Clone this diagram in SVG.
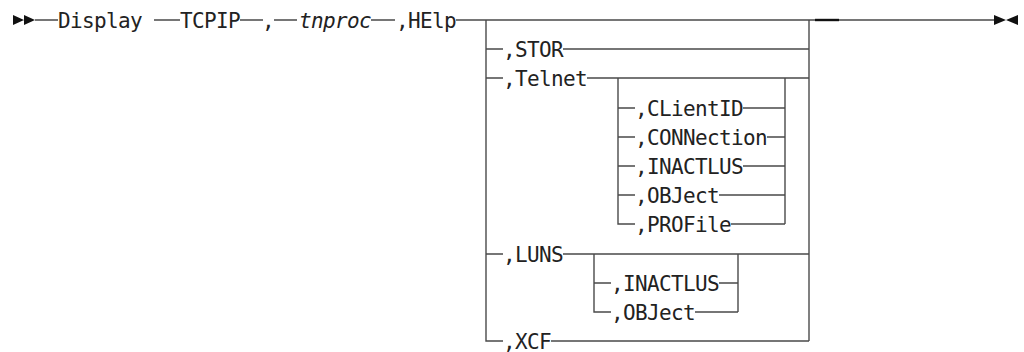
<svg xmlns="http://www.w3.org/2000/svg" width="1024" height="352" viewBox="0 0 1024 352">
<style>
.t{font-family:"DejaVu Sans Mono","Liberation Mono",monospace;font-size:21px;letter-spacing:-0.64px;fill:#222}
.i{font-style:italic}
.c{fill:none;stroke:#4a4a4a;stroke-width:1.4}
.a{fill:#111}
</style>
<rect width="1024" height="352" fill="#fff"/>
<g id="connectors">
<path class="c" d="M35,20H58M154,20H180M240,20H263M274,20H297M371,20H395M456,20H995"/>
<path class="c" d="M486,20V341H503M486,49H503M486,78H503M486,254H503"/>
<path class="c" d="M809,20V341"/>
<path class="c" d="M563,49H809M587,78H809M563,254H809M551,341H809"/>
<path class="c" d="M618,78V224H635M618,108H635M618,137H635M618,166H635M618,195H635"/>
<path class="c" d="M785,78V224M743,108H785M767,137H785M743,166H785M719,195H785M731,224H785"/>
<path class="c" d="M594,254V312H611M594,283H611M738,254V312M719,283H738M695,312H738"/>
<path d="M815,20H839" stroke="#111" stroke-width="2.4"/>
</g>
<g id="start"><path class="a" d="M13,15L24,20L13,25ZM24,15L35,20L24,25Z"/></g>
<g id="end"><path class="a" d="M994,15L1006,20L994,25ZM1018,15L1006,20L1018,25Z"/></g>
<g id="n-display"><text class="t" x="58" y="27.5">Display</text></g>
<g id="n-tcpip"><text class="t" x="180" y="27.5">TCPIP</text></g>
<g id="n-comma"><text class="t" x="262" y="27.5">,</text></g>
<g id="n-tnproc"><text class="t i" x="299" y="27.5">tnproc</text></g>
<g id="n-help"><text class="t" x="396" y="27.5">,HElp</text></g>
<g id="n-stor"><text class="t" x="503" y="56.5">,STOR</text></g>
<g id="n-telnet"><text class="t" x="503" y="85.5">,Telnet</text></g>
<g id="n-clientid"><text class="t" x="635" y="115.5">,CLientID</text></g>
<g id="n-connection"><text class="t" x="635" y="144.5">,CONNection</text></g>
<g id="n-inactlus1"><text class="t" x="635" y="173.5">,INACTLUS</text></g>
<g id="n-object1"><text class="t" x="635" y="202.5">,OBJect</text></g>
<g id="n-profile"><text class="t" x="635" y="231.5">,PROFile</text></g>
<g id="n-luns"><text class="t" x="503" y="261.5">,LUNS</text></g>
<g id="n-inactlus2"><text class="t" x="611" y="290.5">,INACTLUS</text></g>
<g id="n-object2"><text class="t" x="611" y="319.5">,OBJect</text></g>
<g id="n-xcf"><text class="t" x="503" y="348.5">,XCF</text></g>
</svg>
